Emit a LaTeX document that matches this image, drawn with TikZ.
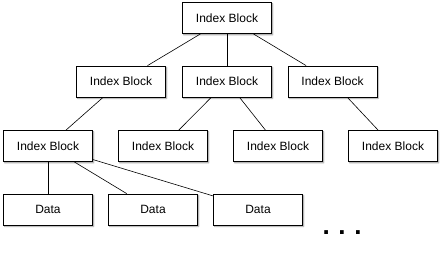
\documentclass[tikz,border=0pt]{standalone}
\usepackage{fontspec}
\setmainfont{Liberation Sans}
\usetikzlibrary{shadows.blur}

\begin{document}
\begin{tikzpicture}[
  x=1pt, y=-1pt,
  font=\fontsize{12}{14}\selectfont,
  blk/.style={draw=black, line width=0.8pt, fill=white, minimum width=89pt,
              minimum height=31pt, inner sep=0pt,
              blur shadow={shadow xshift=1.2pt, shadow yshift=-1.4pt,
                           shadow blur radius=1.2pt, shadow opacity=45}},
  link/.style={draw=black, line width=0.6pt},
]
\useasboundingbox (0,0) rectangle (441,252);

% ---------------- root ----------------
\node[blk] (root) at (227,18) {Index Block};

% ---------------- second level ----------------
\node[blk] (ia) at (121,81.5)   {Index Block};
\node[blk] (ib) at (227,81.5)   {Index Block};
\node[blk] (ic) at (332.5,81.5) {Index Block};

% ---------------- third level ----------------
\node[blk] (ja) at (48,146)  {Index Block};
\node[blk] (jb) at (163,146) {Index Block};
\node[blk] (jc) at (278,146) {Index Block};
\node[blk] (jd) at (393,146) {Index Block};

% ---------------- data blocks ----------------
\node[blk] (da) at (48,209.5)  {Data};
\node[blk] (db) at (153,209.5) {Data};
\node[blk] (dc) at (258,209.5) {Data};

\node[font=\fontsize{26}{26}\selectfont\bfseries, inner sep=0pt] (more) at (342,233) {.\,\,.\,\,.};

% ---------------- links ----------------
\foreach \c in {ia,ib,ic} \draw[link] (root) -- (\c);
\draw[link] (ia) -- (ja);
\draw[link] (ib) -- (jb);
\draw[link] (ib) -- (jc);
\draw[link] (ic) -- (jd);
\foreach \c in {da,db,dc} \draw[link] (ja) -- (\c);

\end{tikzpicture}
\end{document}
